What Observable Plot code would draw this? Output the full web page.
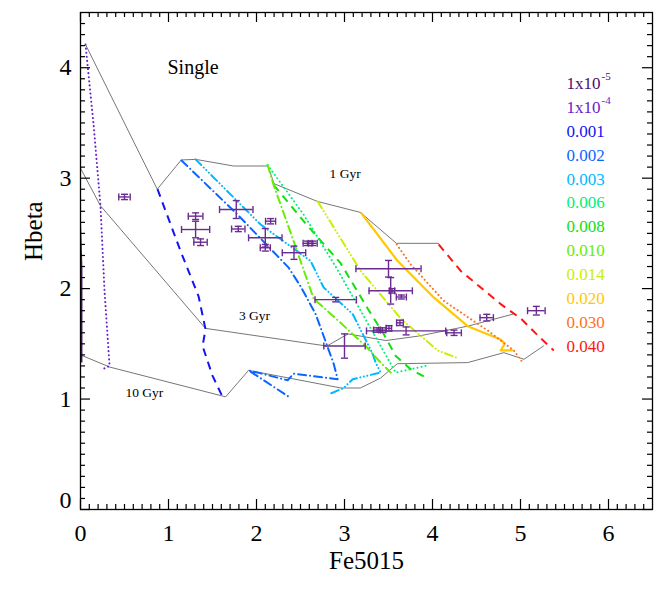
<!DOCTYPE html>
<html><head><meta charset="utf-8">
<script src="https://cdn.jsdelivr.net/npm/d3@7"></script>
<script src="https://cdn.jsdelivr.net/npm/@observablehq/plot@0.6"></script>
<style>body{margin:0;background:#fff;}</style>
</head><body><div id="chart"></div>
<script>
// ---- tick values ----
const xMajor = [0, 1, 2, 3, 4, 5, 6];
const yMajor = [0, 1, 2, 3, 4];
const xDomain = [0, 6.5];
const yDomain = [0, 4.5];

// ---- metallicity legend ----
const zMain = ["1x10", "1x10", "0.001", "0.002", "0.003", "0.006", "0.008", "0.010", "0.014", "0.020", "0.030", "0.040"];
const zSup = ["-5", "-4", "", "", "", "", "", "", "", "", "", ""];
const zColors = ["#4a0c6e", "#6a22c8", "#1414f0", "#0a66ff", "#00b8ff", "#00f07a", "#10e010", "#66ee00", "#c8f000", "#ffc800", "#ff7020", "#ff1414"];
const zStyle = ["solid", "dot", "dash", "dashdot", "dash3dot", "dot", "dash", "dashdot", "dash3dot", "solid", "dot", "dash"];

// ---- model tracks (Fe5015, Hbeta) ----
const track1e5 = [[-0.05, 4.3], [-0.03, 3.09], [0.005, 2.18], [0.005, 1.40], [0.005, 1.33]];
const track1e4 = [[0.057, 4.21], [0.148, 3.49], [0.227, 2.75], [0.273, 1.98], [0.33, 1.30], [0.25, 1.27]];
const track001 = [[0.875, 2.90], [1.137, 2.34], [1.342, 1.93], [1.421, 1.63], [1.387, 1.48], [1.501, 1.21], [1.626, 1.00]];
const track002 = [[1.148, 3.16], [1.785, 2.67], [2.365, 2.19], [2.501, 2.02], [2.672, 1.77], [2.877, 1.32], [2.922, 1.18], [2.422, 1.23], [2.354, 1.17], [1.91, 1.26], [2.388, 1.01]];
const track003 = [[1.308, 3.17], [2.047, 2.58], [2.615, 2.25], [2.763, 2.01], [3.093, 1.77], [3.32, 1.41], [3.354, 1.33], [3.411, 1.24], [3.093, 1.18], [2.99, 1.10], [2.843, 1.05]];
const track006 = [[2.126, 3.12], [2.536, 2.67], [2.899, 2.20], [3.184, 1.80], [3.411, 1.48], [3.582, 1.24], [3.923, 1.30]];
const track008 = [[2.194, 2.94], [2.558, 2.59], [2.956, 2.23], [3.263, 1.82], [3.445, 1.59], [3.582, 1.39], [3.752, 1.27], [3.957, 1.18]];
const track010 = [[2.126, 3.12], [2.194, 2.94], [2.422, 2.43], [2.649, 1.91], [2.956, 1.69], [3.24, 1.48], [3.411, 1.33], [3.525, 1.24]];
const track014 = [[2.695, 2.79], [3.184, 2.16], [3.638, 1.73], [4.059, 1.44], [4.286, 1.37]];
const track020 = [[3.184, 2.69], [3.604, 2.25], [4.014, 1.92], [4.40, 1.66], [4.775, 1.54], [4.82, 1.50], [4.775, 1.44], [4.912, 1.44]];
const track030 = [[3.593, 2.40], [3.752, 2.22], [4.127, 1.89], [4.628, 1.62], [4.923, 1.44], [5.026, 1.33]];
const track040 = [[4.07, 2.40], [4.321, 2.16], [4.548, 2.01], [4.775, 1.86], [5.003, 1.73], [5.23, 1.55], [5.378, 1.44]];
const tracks = [track1e5, track1e4, track001, track002, track003, track006, track008, track010, track014, track020, track030, track040];

// ---- iso-age lines ----
const ageLine1 = [[0.057, 4.21], [0.872, 2.90], [1.145, 3.165], [1.31, 3.17], [1.74, 3.11], [2.13, 3.11], [2.20, 2.95], [2.69, 2.79], [3.18, 2.69], [3.59, 2.41], [4.07, 2.41]];
const ageLine3 = [[0, 3.09], [0.227, 2.75], [1.42, 1.64], [2.80, 1.48], [3.04, 1.59], [3.47, 1.53], [3.84, 1.57], [4.40, 1.66], [4.92, 1.77]];
const ageLine10 = [[0, 1.40], [0.33, 1.29], [1.65, 1.02], [1.91, 1.26], [2.96, 1.10], [3.18, 1.10], [3.41, 1.19], [3.60, 1.32], [4.40, 1.33], [4.81, 1.42], [5.04, 1.36], [5.26, 1.48]];
const ageLabels = ["1 Gyr", "3 Gyr", "10 Gyr"];
const ageLabelX = [2.83, 1.80, 0.51];
const ageLabelY = [3.0, 1.72, 1.02];

// ---- observed galaxies ----
const obsX    = [0.50, 1.308, 1.308, 1.364, 1.77, 1.793, 2.10, 2.10, 2.16, 2.426, 2.58, 2.64, 2.90, 3.50, 3.525, 3.54, 3.646, 3.63, 3.70, 3.37, 3.43, 3.505, 4.245, 4.616, 5.18, 3.00];
const obsY    = [2.83, 2.656, 2.535, 2.42, 2.716, 2.54, 2.46, 2.37, 2.61, 2.325, 2.41, 2.41, 1.90, 2.18, 1.98, 1.98, 1.924, 1.69, 1.617, 1.625, 1.625, 1.64, 1.60, 1.737, 1.80, 1.48];
const obsXErr = [0.065, 0.083, 0.16, 0.076, 0.19, 0.076, 0.19, 0.057, 0.057, 0.133, 0.05, 0.05, 0.235, 0.37, 0.246, 0.03, 0.057, 0.038, 0.45, 0.04, 0.04, 0.03, 0.083, 0.076, 0.10, 0.235];
const obsYErr = [0.024, 0.03, 0.075, 0.03, 0.081, 0.024, 0.084, 0.03, 0.024, 0.06, 0.02, 0.02, 0.02, 0.075, 0.12, 0.02, 0.018, 0.024, 0.036, 0.02, 0.02, 0.024, 0.024, 0.03, 0.039, 0.11];

// ---- layout ----
const W = 664, H = 599, mL = 80, mR = 12, mT = 12, mB = 90;
const yPerPx = (yDomain[1] - yDomain[0]) / (H - mT - mB);
const xPerPx = (xDomain[1] - xDomain[0]) / (W - mL - mR);
const xMinor = d3.range(1, 65).map(i => i / 10).filter(v => Math.abs(v - Math.round(v)) > 1e-6);
const yMinor = d3.range(1, 45).map(i => i / 10).filter(v => Math.abs(v - Math.round(v)) > 1e-6);

const dashes = {solid: null, dot: "0.1 4", dash: "8 6", dashdot: "8 4 0.1 4", dash3dot: "8 3.5 0.1 3.5 0.1 3.5 0.1 3.5"};

const obs = obsX.map((x, i) => ({x, y: obsY[i], xe: obsXErr[i], ye: obsYErr[i]}));
const ageRows = [ageLine1, ageLine3, ageLine10].flatMap((t, k) => t.map(([x, y]) => ({x, y, k})));
const legendRows = zMain.map((t, i) => ({t, s: zSup[i], c: zColors[i], x: xDomain[0] + (566 - mL) * xPerPx, y: yDomain[1] - (83 - mT + i * 23.9) * yPerPx}));

const capV = {draw(ctx, size) { const r = Math.sqrt(size / Math.PI); ctx.moveTo(0, -r); ctx.lineTo(0, r); }};
const capH = {draw(ctx, size) { const r = Math.sqrt(size / Math.PI); ctx.moveTo(-r, 0); ctx.lineTo(r, 0); }};
const errColor = "#6a2c90";
const serif = "'Liberation Serif', 'Times New Roman', serif";

const marks = [
  // iso-age lines
  Plot.line(ageRows, {x: "x", y: "y", z: "k", stroke: "#666", strokeWidth: 0.9, clip: true}),
  // tracks
  ...tracks.map((t, k) => Plot.line(t, {x: d => d[0], y: d => d[1], stroke: zColors[k], strokeWidth: k === 0 ? 3 : (zStyle[k] === "solid" ? 2.2 : 2), strokeDasharray: dashes[zStyle[k]], strokeLinecap: zStyle[k] === "dash" || zStyle[k] === "solid" ? "butt" : "round", clip: true})),
  // error bars
  Plot.ruleY(obs, {y: "y", x1: d => d.x - d.xe, x2: d => d.x + d.xe, stroke: errColor, strokeWidth: 1.4}),
  Plot.ruleX(obs, {x: "x", y1: d => d.y - d.ye, y2: d => d.y + d.ye, stroke: errColor, strokeWidth: 1.4}),
  Plot.dot(obs, {x: d => d.x - d.xe, y: "y", symbol: capV, r: 3.5, stroke: errColor, strokeWidth: 1.4}),
  Plot.dot(obs, {x: d => d.x + d.xe, y: "y", symbol: capV, r: 3.5, stroke: errColor, strokeWidth: 1.4}),
  Plot.dot(obs, {x: "x", y: d => d.y - d.ye, symbol: capH, r: 3.5, stroke: errColor, strokeWidth: 1.4}),
  Plot.dot(obs, {x: "x", y: d => d.y + d.ye, symbol: capH, r: 3.5, stroke: errColor, strokeWidth: 1.4}),
  // frame & ticks
  Plot.frame({stroke: "#000", strokeWidth: 1.3}),
  Plot.ruleX(xMajor, {x: d => d, y1: yDomain[0], y2: yDomain[0] + 10 * yPerPx, stroke: "#000", strokeWidth: 1.2}),
  Plot.ruleX(xMajor, {x: d => d, y1: yDomain[1], y2: yDomain[1] - 10 * yPerPx, stroke: "#000", strokeWidth: 1.2}),
  Plot.ruleX(xMinor, {x: d => d, y1: yDomain[0], y2: yDomain[0] + 5 * yPerPx, stroke: "#000", strokeWidth: 1.2}),
  Plot.ruleX(xMinor, {x: d => d, y1: yDomain[1], y2: yDomain[1] - 5 * yPerPx, stroke: "#000", strokeWidth: 1.2}),
  Plot.ruleY(yMajor, {y: d => d, x1: xDomain[0], x2: xDomain[0] + 10 * xPerPx, stroke: "#000", strokeWidth: 1.2}),
  Plot.ruleY(yMajor, {y: d => d, x1: xDomain[1], x2: xDomain[1] - 10 * xPerPx, stroke: "#000", strokeWidth: 1.2}),
  Plot.ruleY(yMinor, {y: d => d, x1: xDomain[0], x2: xDomain[0] + 5 * xPerPx, stroke: "#000", strokeWidth: 1.2}),
  Plot.ruleY(yMinor, {y: d => d, x1: xDomain[1], x2: xDomain[1] - 5 * xPerPx, stroke: "#000", strokeWidth: 1.2}),
  // tick labels
  Plot.text(xMajor, {x: d => d, frameAnchor: "bottom", dy: 24, lineAnchor: "middle", text: d => String(d), fontSize: 24, fill: "#000"}),
  Plot.text(yMajor.filter(d => d > 0), {y: d => d, frameAnchor: "left", dx: -9, textAnchor: "end", lineAnchor: "middle", text: d => String(d), fontSize: 24, fill: "#000"}),
  Plot.text([0], {y: d => d, frameAnchor: "left", dx: -9, dy: -9, textAnchor: "end", lineAnchor: "middle", text: d => String(d), fontSize: 24, fill: "#000"}),
  // axis titles
  Plot.text(["Fe5015"], {frameAnchor: "bottom", dy: 51, lineAnchor: "middle", fontSize: 25, fill: "#000"}),
  Plot.text(["Hbeta"], {frameAnchor: "left", dx: -47, rotate: -90, lineAnchor: "middle", fontSize: 25, fill: "#000"}),
  // annotations
  Plot.text(["Single"], {frameAnchor: "top-left", dx: 87, dy: 55, textAnchor: "start", lineAnchor: "middle", fontSize: 20, fill: "#000"}),
  Plot.text(ageLabels, {x: (d, i) => ageLabelX[i], y: (d, i) => ageLabelY[i], text: d => d, textAnchor: "start", lineAnchor: "bottom", fontSize: 13.5, fill: "#000"}),
  // legend
  Plot.text(legendRows, {x: "x", y: "y", text: "t", fill: "c", textAnchor: "start", lineAnchor: "middle", fontSize: 17}),
  Plot.text(legendRows.filter(d => d.s), {x: "x", y: "y", text: "s", fill: "c", textAnchor: "start", lineAnchor: "middle", fontSize: 11, dx: 35, dy: -7})
];

const chart = Plot.plot({
  width: W, height: H,
  marginLeft: mL, marginRight: mR, marginTop: mT, marginBottom: mB,
  x: {domain: xDomain, axis: null},
  y: {domain: yDomain, axis: null},
  style: {fontFamily: serif, background: "#fff"},
  marks
});
document.getElementById("chart").appendChild(chart);
</script>
</body></html>
